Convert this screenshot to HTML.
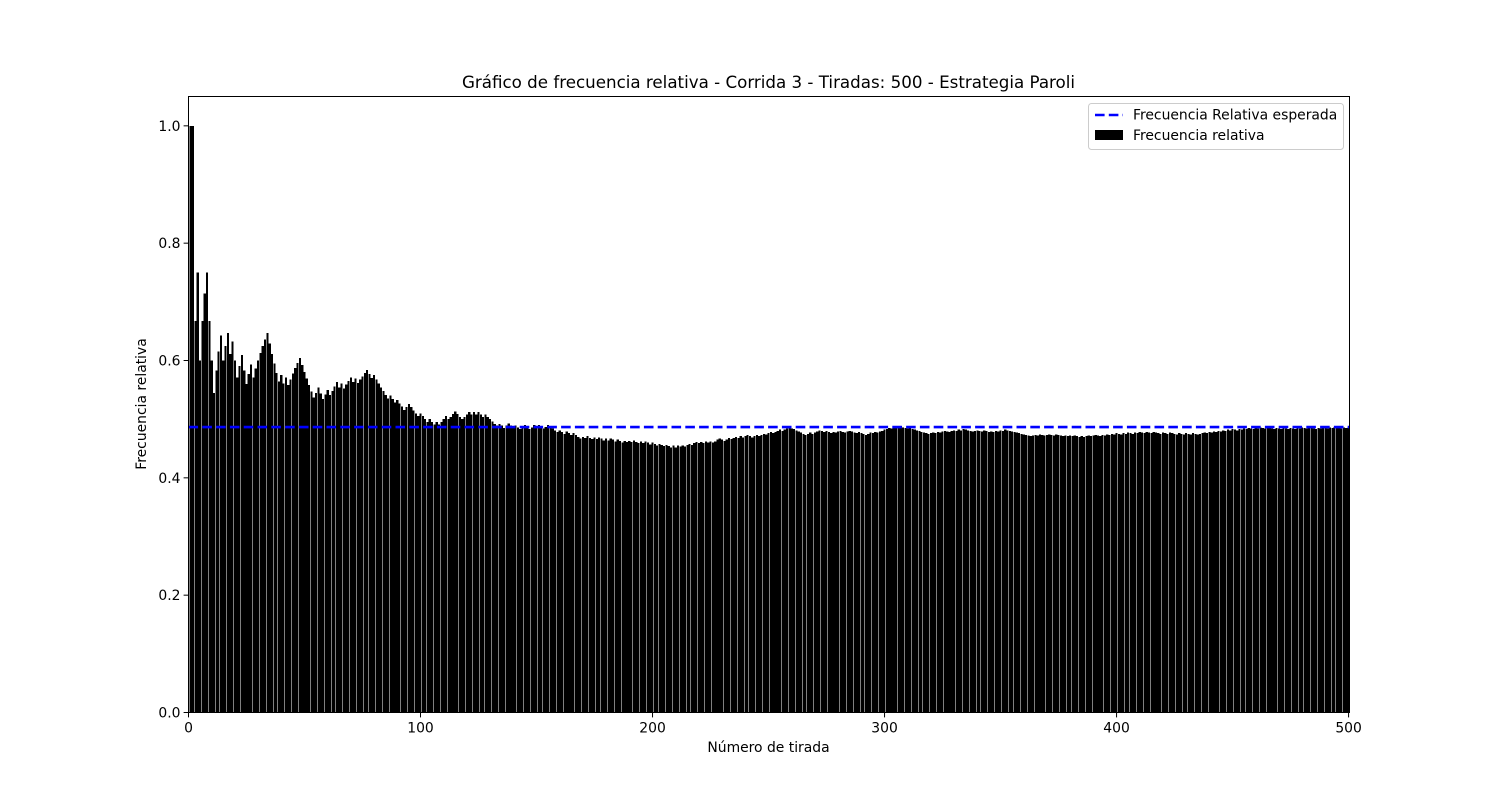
<!DOCTYPE html>
<html><head><meta charset="utf-8"><style>
body{margin:0;background:#fff}
svg{font-family:"DejaVu Sans","Liberation Sans",sans-serif}
</style></head><body>
<svg id="chart" width="1500" height="800" xmlns="http://www.w3.org/2000/svg">
<rect width="1500" height="800" fill="#fff"/>
<text x="768.5" y="88" font-size="16.7" text-anchor="middle">Gráfico de frecuencia relativa - Corrida 3 - Tiradas: 500 - Estrategia Paroli</text>
<g id="bars" shape-rendering="crispEdges"></g>
<g id="ticks"></g>
<line id="expected" stroke="#0000ff" stroke-width="2.6" stroke-dasharray="9.6,4.2"/>
<rect x="188.5" y="96.5" width="1161" height="616" fill="none" stroke="#000" stroke-width="1"/>
<text x="768.5" y="752" font-size="13.9" text-anchor="middle">Número de tirada</text>
<text transform="translate(146,404) rotate(-90)" font-size="13.9" text-anchor="middle">Frecuencia relativa</text>
<g>
<rect x="1088.5" y="103.5" width="255" height="46" rx="3" fill="#fff" fill-opacity="0.8" stroke="#ccc"/>
<line x1="1095" y1="115" x2="1123" y2="115" stroke="#0000ff" stroke-width="2.6" stroke-dasharray="9.6,4.2"/>
<text x="1133" y="119.5" font-size="13.9">Frecuencia Relativa esperada</text>
<rect x="1095" y="130" width="28" height="10" fill="#000"/>
<text x="1133" y="140" font-size="13.9">Frecuencia relativa</text>
</g>
</svg>
<script>
const values=[1,1,.667,.75,.6,.667,.714,.75,.667,.6,.545,.583,.615,.643,.6,.625,.647,.611,.632,.6,.571,.591,.609,.583,.56,.577,.593,.571,.586,.6,.613,.625,.636,.647,.629,.611,.595,.579,.564,.575,
.561,.571,.558,.568,.578,.587,.596,.604,.592,.58,
.569,.558,.547,.537,.545,.554,.544,.534,.542,.55,
.541,.548,.556,.563,.554,.561,.552,.559,.565,.571,
.563,.569,.562,.568,.573,.579,.584,.577,.57,.575,
.568,.561,.554,.548,.541,.535,.54,.534,.528,.533,
.527,.522,.516,.521,.526,.521,.515,.51,.505,.51,
.505,.5,.495,.5,.495,.491,.495,.491,.495,.5,
.505,.5,.504,.509,.513,.509,.504,.5,.504,.508,
.512,.508,.512,.508,.512,.508,.504,.508,.504,.5,
.496,.492,.489,.492,.489,.485,.489,.493,.489,.486,
.489,.486,.483,.486,.490,.486,.483,.486,.490,.487,
.490,.487,.484,.487,.490,.487,.484,.481,.478,.481,
.478,.475,.479,.476,.473,.476,.473,.470,.467,.470,
.468,.471,.468,.466,.469,.466,.469,.467,.464,.467,
.464,.467,.465,.462,.465,.463,.460,.463,.461,.463,
.461,.464,.461,.459,.462,.459,.462,.460,.457,.460,
.458,.455,.458,.456,.454,.456,.454,.452,.455,.452,
.455,.453,.455,.453,.456,.458,.456,.459,.461,.459,
.461,.459,.462,.460,.462,.460,.462,.465,.467,.465,
.463,.465,.468,.466,.468,.470,.468,.471,.469,.471,
.473,.471,.469,.471,.473,.471,.473,.475,.474,.476,
.478,.476,.478,.480,.482,.480,.482,.484,.486,.484,
.483,.481,.479,.477,.475,.473,.475,.477,.475,.477,
.479,.481,.480,.478,.480,.478,.476,.478,.477,.479,
.480,.478,.477,.479,.480,.479,.477,.476,.478,.476,
.475,.473,.475,.477,.476,.478,.477,.479,.480,.482,
.483,.485,.484,.486,.487,.486,.488,.486,.485,.484,
.485,.483,.482,.481,.480,.478,.477,.476,.475,.476,
.477,.476,.478,.477,.479,.480,.479,.478,.480,.481,
.480,.482,.481,.483,.482,.481,.480,.479,.480,.481,
.480,.479,.481,.480,.478,.479,.478,.480,.479,.481,
.480,.482,.481,.480,.479,.478,.477,.476,.475,.474,
.473,.472,.471,.472,.473,.472,.474,.473,.472,.473,
.474,.473,.472,.474,.473,.472,.471,.472,.471,.472,
.471,.472,.471,.470,.471,.470,.471,.472,.471,.472,
.473,.472,.471,.473,.472,.474,.473,.475,.474,.476,
.475,.474,.476,.475,.477,.476,.475,.477,.476,.478,
.477,.476,.478,.477,.476,.478,.477,.476,.475,.477,
.476,.475,.477,.476,.475,.474,.476,.475,.474,.476,
.475,.474,.476,.475,.474,.475,.476,.477,.476,.478,
.477,.479,.478,.480,.479,.481,.480,.482,.481,.483,
.482,.481,.483,.482,.484,.483,.485,.484,.483,.485,
.484,.486,.485,.484,.486,.485,.484,.483,.485,.484,
.483,.485,.484,.483,.485,.484,.483,.485,.484,.486,
.485,.484,.486,.485,.484,.483,.485,.484,.486,.485,
.484,.486,.485,.487,.486,.485,.484,.486,.485,.486];
const expectedValue=0.4865;
const xTicks=[0,100,200,300,400,500];
const yTicks=[0.0,0.2,0.4,0.6,0.8,1.0];
const NS="http://www.w3.org/2000/svg";
const L=188.5,R=1349.5,T=96.5,B=712.5,XMIN=0,XMAX=500.4,YMIN=0,YMAX=1.05;
const HW=0.465;
const xs=v=>L+(v-XMIN)/(XMAX-XMIN)*(R-L);
const ys=v=>B-(v-YMIN)/(YMAX-YMIN)*(B-T);
const bars=document.getElementById('bars');
values.forEach((v,i)=>{
  const n=i+1;
  const r=document.createElementNS(NS,'rect');
  
  
  r.setAttribute('x',xs(n-HW));
  r.setAttribute('width',xs(n+HW)-xs(n-HW));
  r.setAttribute('y',ys(v));
  r.setAttribute('height',ys(0)-ys(v));
  r.setAttribute('fill','#000');
  bars.appendChild(r);
});
const ex=document.getElementById('expected');
ex.setAttribute('x1',xs(0));ex.setAttribute('x2',xs(XMAX));
ex.setAttribute('y1',ys(expectedValue));ex.setAttribute('y2',ys(expectedValue));
const tk=document.getElementById('ticks');
xTicks.forEach(t=>{
  const l=document.createElementNS(NS,'line');
  
  
  l.setAttribute('x1',xs(t));l.setAttribute('x2',xs(t));l.setAttribute('y1',B);l.setAttribute('y2',B+4.9);l.setAttribute('stroke','#000');
  tk.appendChild(l);
  const s=document.createElementNS(NS,'text');
  
  
  s.setAttribute('x',xs(t));s.setAttribute('y',B+20);s.setAttribute('font-size','13.9');s.setAttribute('text-anchor','middle');
  s.textContent=t;tk.appendChild(s);
});
yTicks.forEach(t=>{
  const l=document.createElementNS(NS,'line');
  
  
  l.setAttribute('x1',L-4.9);l.setAttribute('x2',L);l.setAttribute('y1',ys(t));l.setAttribute('y2',ys(t));l.setAttribute('stroke','#000');
  tk.appendChild(l);
  const s=document.createElementNS(NS,'text');
  
  
  s.setAttribute('x',L-8);s.setAttribute('y',ys(t)+5);s.setAttribute('font-size','13.9');s.setAttribute('text-anchor','end');
  s.textContent=t.toFixed(1);tk.appendChild(s);
});
</script>
</body></html>
